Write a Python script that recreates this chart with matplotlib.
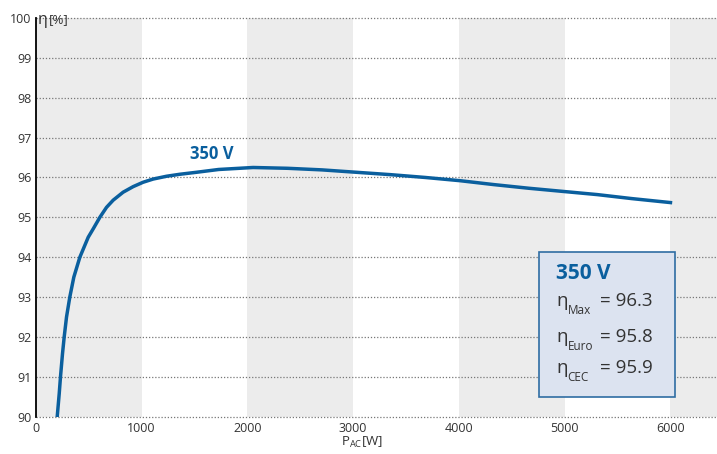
import matplotlib.pyplot as plt

plt.rcParams['font.family'] = ['Open Sans', 'DejaVu Sans']

# curve
p_ac = [202, 221, 233, 252, 268, 290, 321, 359, 416, 495, 542, 605, 668, 731, 825, 920, 1014, 1109,
        1235, 1361, 1519, 1728, 2054, 2379, 2705, 3030, 3355, 3681, 4007, 4333, 4658, 4983, 5309,
        5634, 6000]
eta = [90.0, 90.58, 91.0, 91.58, 92.0, 92.5, 93.0, 93.5, 94.0, 94.5, 94.71, 95.0, 95.25, 95.43, 95.63,
       95.77, 95.88, 95.96, 96.03, 96.08, 96.13, 96.2, 96.25, 96.23, 96.19, 96.13, 96.07, 96.0, 95.92,
       95.82, 95.73, 95.65, 95.57, 95.47, 95.37]

xticks = [0, 1000, 2000, 3000, 4000, 5000, 6000]
yticks = [90, 91, 92, 93, 94, 95, 96, 97, 98, 99, 100]
series_label = "350 V"
box_rows = [('Max', 96.3), ('Euro', 95.8), ('CEC', 95.9)]

blue = '#0a5f9e'
txt = '#333333'

fig = plt.figure(figsize=(7.17, 4.54), dpi=100)
ax = fig.add_axes([0.050, 0.0822, 0.950, 0.8782])
ax.set_xlim(0, 6440)
ax.set_ylim(90, 100)

# alternating bands
for x0 in [0, 2000, 4000, 6000]:
    ax.axvspan(x0, x0 + 1000, color='#ececec', lw=0, zorder=0)

for y in yticks:
    ax.axhline(y, color='#777777', lw=0.9, ls=(0, (1, 1.5)), zorder=1, clip_on=False)

ax.plot(p_ac, eta, color=blue, lw=2.5, zorder=3, solid_joinstyle='round')

ax.text(1660, 96.6, series_label, color=blue, fontsize=12, fontweight='bold', ha='center', va='center')

for s in ['top', 'right', 'bottom']:
    ax.spines[s].set_visible(False)
ax.spines['left'].set_color('black')
ax.spines['left'].set_linewidth(1.3)

ax.set_xticks(xticks)
ax.set_yticks(yticks)
ax.tick_params(length=0, labelsize=9, colors=txt, pad=4)
ax.tick_params(axis='y', pad=3)

ax.text(16, 99.95, 'η', fontsize=11.5, color=txt, ha='left', va='center')
ax.text(125, 99.95, '[%]', fontsize=9.5, color=txt, ha='left', va='center')
fig.text(0.505, 0.008, r'P$_{\mathregular{AC}}$[W]', fontsize=9.5, color=txt, ha='center', va='bottom')

# info box
box = plt.Rectangle((4757, 90.50), 1289, 3.63, facecolor='#dce3f0', edgecolor='#2f6da3', lw=1.2, zorder=4)
ax.add_patch(box)
ax.text(4921, 93.45, series_label, color=blue, fontsize=15, fontweight='bold', ha='left', va='baseline', zorder=5)
baselines = [92.78, 91.87, 91.09]
for (sub, v), yb in zip(box_rows, baselines):
    ax.text(4921, yb, 'η', color=txt, fontsize=13.5, ha='left', va='baseline', zorder=5)
    ax.text(5028, yb - 0.2, sub, color=txt, fontsize=8.5, ha='left', va='baseline', zorder=5)
    ax.text(5337, yb, '= %.1f' % v, color=txt, fontsize=13.5, ha='left', va='baseline', zorder=5)

fig.savefig('out.png', dpi=100)
